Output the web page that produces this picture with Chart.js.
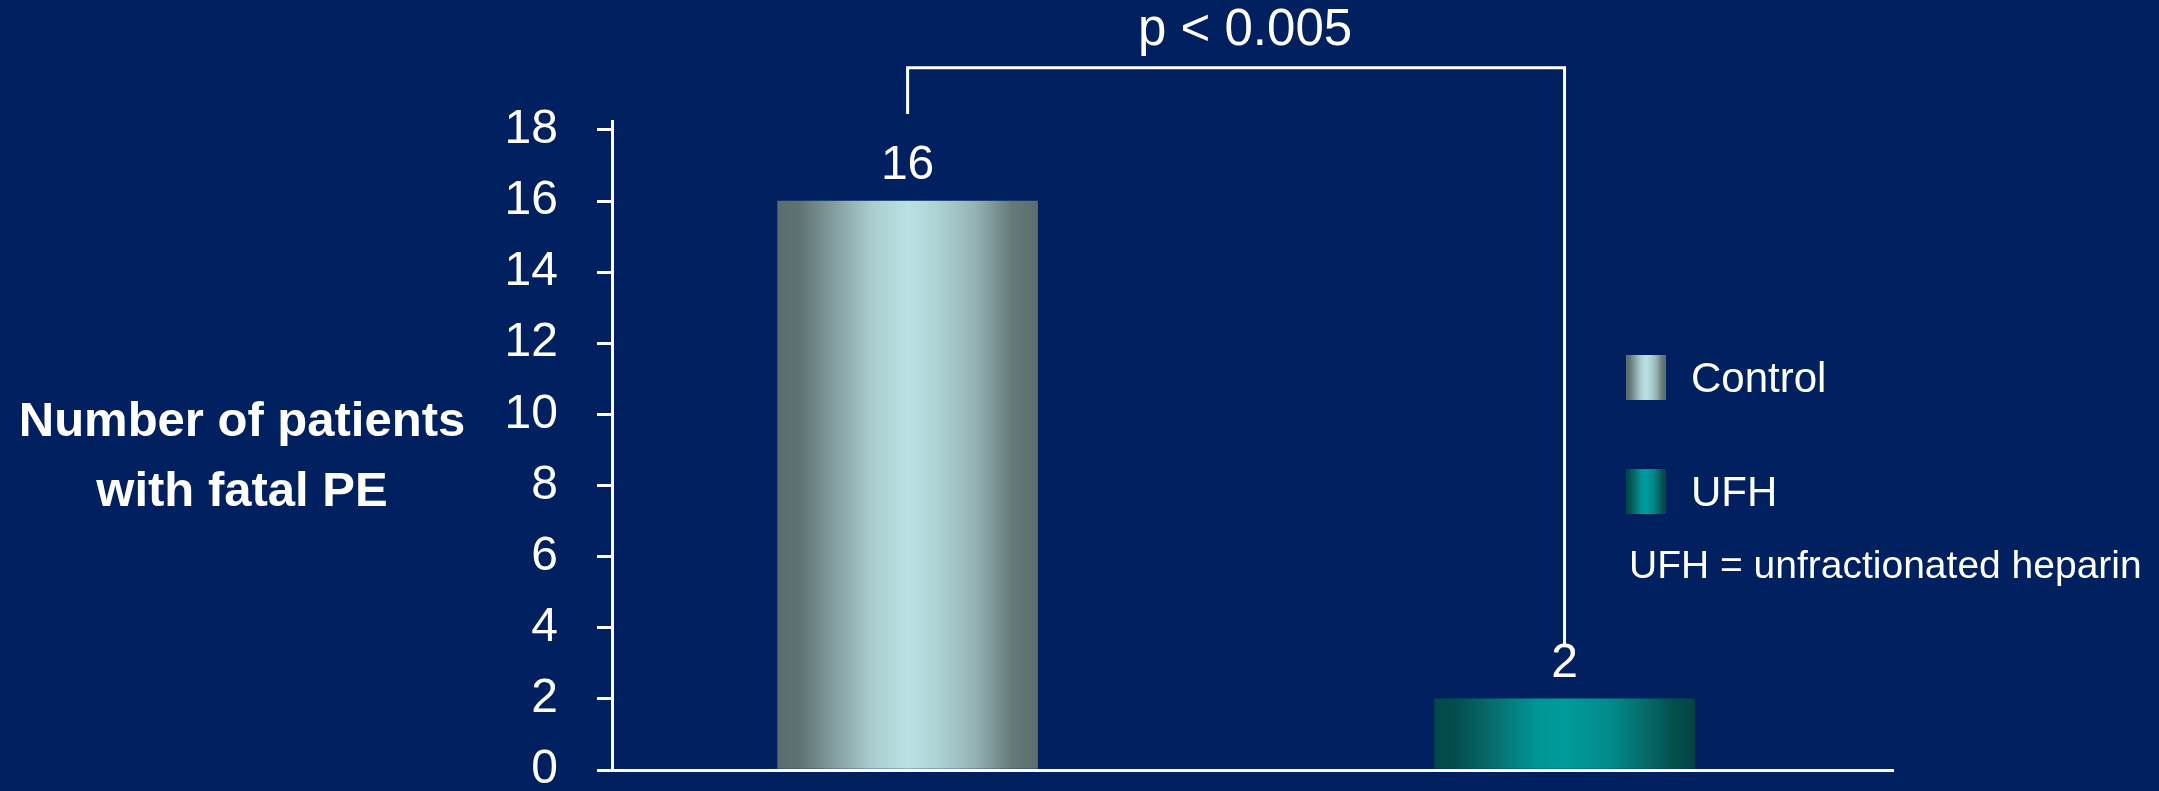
<!DOCTYPE html>
<html>
<head>
<meta charset="utf-8">
<script src="https://cdn.jsdelivr.net/npm/chart.js@4/dist/chart.umd.min.js"></script>
<style>
  html, body { margin: 0; padding: 0; background: #002060; }
  #wrap { position: relative; width: 2159px; height: 791px; font-family: "Liberation Sans", Arial, sans-serif; color: #fff; overflow: hidden; }
  #chart { position: absolute; left: 0; top: 0; }
  .ytitle { position: absolute; left: 0; width: 484px; top: 384px; text-align: center; font-weight: bold; font-size: 49px; line-height: 70px; }
  #legend { position: absolute; left: 1626px; top: 355px; margin: 0; padding: 0; list-style: none; }
  #legend li { display: flex; align-items: center; height: 45px; margin-bottom: 69px; font-size: 42px; }
  #legend .box { width: 40px; height: 45px; margin-right: 25px; }
  .note { position: absolute; left: 1629px; top: 542px; font-size: 39px; line-height: 45px; white-space: nowrap; }
</style>
</head>
<body>
<div id="wrap">
  <canvas id="chart" width="2159" height="791"></canvas>
  <div class="ytitle">Number of patients<br>with fatal PE</div>
  <ul id="legend"></ul>
  <div class="note">UFH = unfractionated heparin</div>
</div>
<script>
// === Data ===
const groups = ['Control', 'UFH'];
const fatalPE = [16, 2];
const yTicks = [0, 2, 4, 6, 8, 10, 12, 14, 16, 18];
const pLabel = 'p < 0.005';

// bracket ends, in y-axis units
const bracketLeftEnd = 18.45;
const bracketTop = 19.75;
const bracketRightEnd = 3.45;

// bar shading, dark edges -> light middle
const barStops = [
    [[0, '#5b6e6d'], [0.08, '#5f7272'], [0.24, '#8aa5a6'], [0.37, '#aacfd0'], [0.5, '#bae1e4'], [0.62, '#add2d4'], [0.76, '#95b3b4'], [0.9, '#667a7a'], [1, '#5b6d6c']],
    [[0, '#034848'], [0.08, '#044d4d'], [0.23, '#076e6e'], [0.39, '#009595'], [0.5, '#009b9b'], [0.68, '#038a8a'], [0.83, '#066565'], [0.92, '#044e4e'], [1, '#034545']]
];
const BAR_W = 260;
const FONT = '"Liberation Sans", Arial, sans-serif';

function cssGradient(stops) {
    return 'linear-gradient(to right, ' + stops.map(s => `${s[1]} ${s[0] * 100}%`).join(', ') + ')';
}

// === Plugin: value labels + significance bracket ===
const annotations = {
    id: 'annotations',
    afterDatasetsDraw(chart) {
        const { ctx, scales: { x, y } } = chart;
        const meta = chart.getDatasetMeta(0);
        ctx.save();
        ctx.fillStyle = '#fff';
        ctx.textAlign = 'center';
        ctx.font = '48px ' + FONT;
        ctx.textBaseline = 'alphabetic';
        meta.data.forEach((bar, i) => {
            ctx.fillText(String(fatalPE[i]), bar.x, bar.y - 22);
        });

        const x1 = x.getPixelForValue(0);
        const x2 = x.getPixelForValue(1);
        const yTop = y.getPixelForValue(bracketTop);
        ctx.strokeStyle = '#fff';
        ctx.lineWidth = 3;
        ctx.beginPath();
        ctx.moveTo(x1, y.getPixelForValue(bracketLeftEnd));
        ctx.lineTo(x1, yTop);
        ctx.lineTo(x2, yTop);
        ctx.lineTo(x2, y.getPixelForValue(bracketRightEnd));
        ctx.stroke();

        ctx.font = '51px ' + FONT;
        ctx.textBaseline = 'middle';
        ctx.fillText(pLabel, (x1 + x2) / 2 + 9, yTop - 37);
        ctx.restore();
    }
};

// === Chart ===
const ctxChart = document.getElementById('chart').getContext('2d');
const chart = new Chart(ctxChart, {
    type: 'bar',
    data: {
        datasets: [{
            label: 'Fatal PE',
            data: groups.map((g, i) => ({ x: i, y: fatalPE[i] })),
            barThickness: BAR_W,
            borderWidth: 0,
            backgroundColor: (c) => {
                const ch = c.chart;
                if (c.type !== 'data' || !ch.chartArea) return barStops[c.dataIndex || 0][4][1];
                const cx = ch.scales.x.getPixelForValue(c.dataIndex);
                const g = ch.ctx.createLinearGradient(cx - BAR_W / 2, 0, cx + BAR_W / 2, 0);
                barStops[c.dataIndex].forEach(s => g.addColorStop(s[0], s[1]));
                return g;
            }
        }]
    },
    options: {
        responsive: false,
        animation: false,
        layout: { padding: { left: 0, right: 266, top: 121, bottom: 21 } },
        plugins: {
            legend: { display: false },
            tooltip: { enabled: false }
        },
        scales: {
            x: {
                type: 'linear',
                offset: false,
                min: -0.45,
                max: 1.5,
                grid: { display: false },
                ticks: { display: false },
                border: { color: '#fff', width: 3 },
                afterFit: (s) => { s.height = 0; s.paddingLeft = 0; s.paddingRight = 0; }
            },
            y: {
                min: 0,
                max: 18.25,
                afterBuildTicks: (s) => { s.ticks = yTicks.map(v => ({ value: v })); },
                grid: { drawOnChartArea: false, color: '#fff', lineWidth: 3, tickLength: 15 },
                border: { color: '#fff', width: 3 },
                ticks: {
                    color: '#fff',
                    padding: 39,
                    font: { family: FONT, size: 48 }
                },
                // keep the label padding from pushing the plot area in
                afterFit: (s) => { s.width = 612; s.paddingTop = 0; s.paddingBottom = 0; }
            }
        }
    },
    plugins: [annotations]
});

// === HTML legend ===
const legendEl = document.getElementById('legend');
groups.forEach((g, i) => {
    const li = document.createElement('li');
    const box = document.createElement('span');
    box.className = 'box';
    box.style.background = cssGradient(barStops[i]);
    li.appendChild(box);
    li.appendChild(document.createTextNode(g));
    legendEl.appendChild(li);
});
</script>
</body>
</html>
